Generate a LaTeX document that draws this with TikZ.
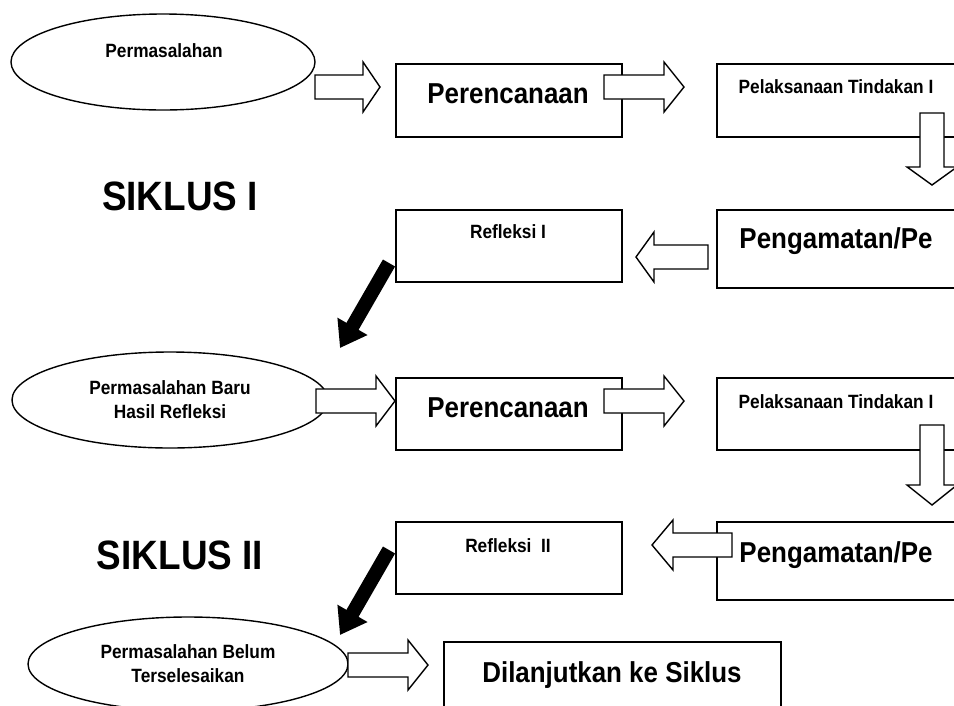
\documentclass[tikz,border=0pt]{standalone}
\usepackage{fontspec}
\setmainfont{Liberation Sans}[FakeStretch=0.9]
\usetikzlibrary{arrows.meta,shapes.geometric}

\tikzset{
  box/.style={draw, line width=1.6pt, inner sep=0pt, anchor=north west},
  oval/.style={draw, ellipse, line width=1.4pt, inner sep=0pt, align=center,
    font=\fontsize{19.2}{24}\selectfont\bfseries},
  small/.style={inner sep=0pt, anchor=base, font=\fontsize{19.2}{24}\selectfont\bfseries},
  mid/.style={inner sep=0pt, anchor=base, font=\fontsize{28.8}{34}\selectfont\bfseries},
  big/.style={inner sep=0pt, anchor=base, font=\fontsize{41}{48}\selectfont\bfseries},
  hollow/.style={draw, fill=white, line width=1.4pt, line join=miter},
  fat/.style={line width=14pt, -{Triangle[length=25pt,width=33pt]}},
  pics/blockarrow/.style n args={2}{code={
    \draw[hollow] (0,-12) -- (#1-#2,-12) -- (#1-#2,-25) -- (#1,0)
      -- (#1-#2,25) -- (#1-#2,12) -- (0,12) -- cycle;
  }},
}

\begin{document}
\begin{tikzpicture}[x=1pt,y=-1pt]
\useasboundingbox (0,0) rectangle (954,705);
\clip (0,0) rectangle (954,705);

% Siklus I
\node[oval, minimum width=304pt, minimum height=96pt] (perm1) at (163,62) {};
\node[small] (perm1txt) at (164,57) {Permasalahan};
\node[box, minimum width=226pt, minimum height=73pt] (rencana1) at (395,63) {};
\node[mid] (rencana1txt) at (508,103) {Perencanaan};
\node[box, minimum width=280pt, minimum height=73pt] (laksana1) at (716,63) {};
\node[small] (laksana1txt) at (836,93) {Pelaksanaan Tindakan I};
\node[box, minimum width=280pt, minimum height=78pt] (amat1) at (716,209) {};
\node[mid] (amat1txt) at (836,248) {Pengamatan/Pe};
\node[box, minimum width=226pt, minimum height=72pt] (refl1) at (395,209) {};
\node[small] (refl1txt) at (508,238) {Refleksi I};
\node[big] (siklus1) at (180,210) {SIKLUS I};

% Siklus II
\node[oval, minimum width=316pt, minimum height=96pt] (perm2) at (170,400)
  {Permasalahan Baru\\Hasil Refleksi};
\node[box, minimum width=226pt, minimum height=72pt] (rencana2) at (395,377) {};
\node[mid] (rencana2txt) at (508,417) {Perencanaan};
\node[box, minimum width=280pt, minimum height=72pt] (laksana2) at (716,377) {};
\node[small] (laksana2txt) at (836,408) {Pelaksanaan Tindakan I};
\node[box, minimum width=280pt, minimum height=78pt] (amat2) at (716,521) {};
\node[mid] (amat2txt) at (836,562) {Pengamatan/Pe};
\node[box, minimum width=226pt, minimum height=72pt] (refl2) at (395,521) {};
\node[small] (refl2txt) at (508,552) {Refleksi\ \ II};
\node[big] (siklus2) at (180,569) {SIKLUS II};

% Akhir
\node[oval, minimum width=320pt, minimum height=94pt] (perm3) at (188,664)
  {Permasalahan Belum\\Terselesaikan};
\node[box, minimum width=337pt, minimum height=90pt] (lanjut) at (443,641) {};
\node[mid] (lanjuttxt) at (612,682) {Dilanjutkan ke Siklus};

% Block arrows
\pic at (315,87) {blockarrow={65}{17}};
\pic at (604,87) {blockarrow={80}{20}};
\pic[rotate=-90] at (932,113) {blockarrow={72}{18}};
\pic[rotate=180] at (708,257) {blockarrow={72}{18}};
\pic at (316,401) {blockarrow={79}{19}};
\pic at (604,401) {blockarrow={80}{20}};
\pic[rotate=-90] at (932,425) {blockarrow={80}{20}};
\pic[rotate=180] at (732,545) {blockarrow={80}{21}};
\pic at (348,665) {blockarrow={80}{20}};

% Black arrows
\coordinate (s1) at (389,263);
\coordinate (e1) at (340,348);
\coordinate (s2) at (389,550);
\coordinate (e2) at (340,635);
\draw[fat] (s1) -- (e1);
\draw[fat] (s2) -- (e2);
\end{tikzpicture}
\end{document}
